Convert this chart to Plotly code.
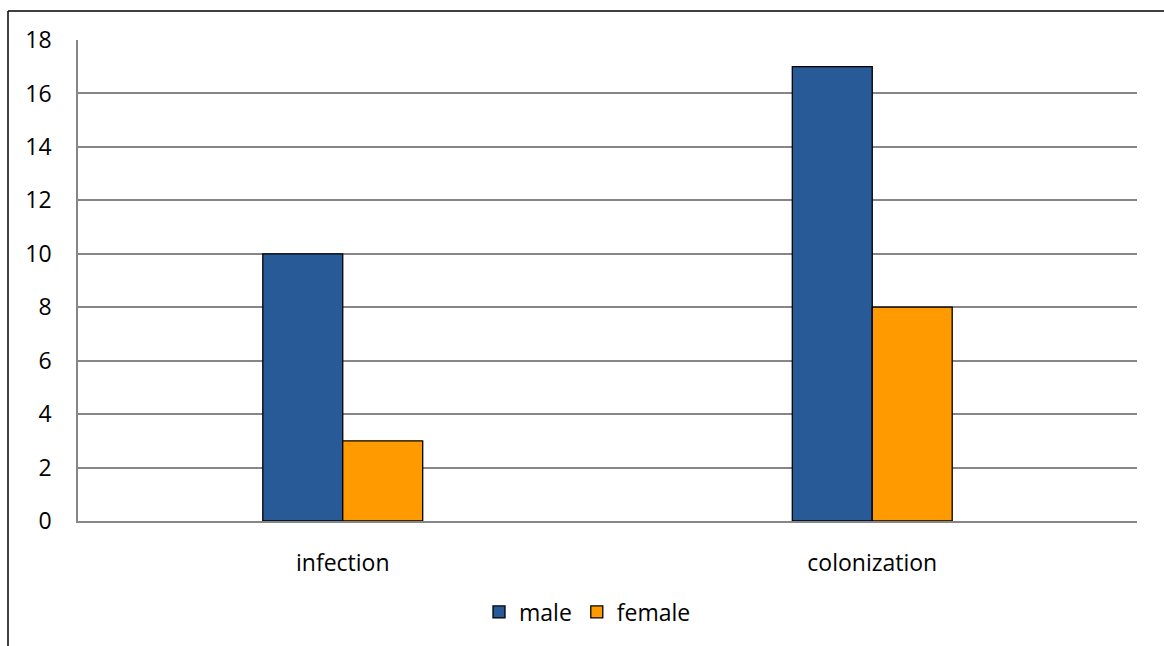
import plotly.graph_objects as go

categories = ["infection", "colonization"]
male = [10, 17]
female = [3, 8]
y_ticks = [0, 2, 4, 6, 8, 10, 12, 14, 16, 18]

BLUE = "#285A98"
ORANGE = "#FF9A00"
GRID = "#868686"
FONT = "Open Sans"

fig = go.Figure()
fig.add_trace(go.Bar(name="male", x=categories, y=male,
                     marker=dict(color=BLUE, line=dict(color="black", width=1.3))))
fig.add_trace(go.Bar(name="female", x=categories, y=female,
                     marker=dict(color=ORANGE, line=dict(color="black", width=1.3))))

L, R, T, B = 78, 27, 40, 125
W, H = 1164, 646
pw, ph = W - L - R, H - T - B

def px_x(px):
    return (px - L) / pw

def px_y(py):
    return (H - B - py) / ph

fig.update_layout(
    width=W, height=H,
    margin=dict(l=L, r=R, t=T, b=B),
    paper_bgcolor="white", plot_bgcolor="white",
    barmode="group", bargap=0.698, bargroupgap=0,
    font=dict(family=FONT, size=23, color="black"),
    showlegend=True,
    legend=dict(orientation="h", x=px_x(479), xanchor="left", y=px_y(612), yanchor="middle",
                font=dict(family=FONT, size=23), itemwidth=30, traceorder="normal",
                bgcolor="rgba(0,0,0,0)"),
    xaxis=dict(showgrid=False, showline=True, linecolor=GRID, linewidth=1.6,
               ticks="outside", ticklen=0, ticklabelstandoff=21, fixedrange=True),
    yaxis=dict(range=[0, 18], tickvals=y_ticks, showgrid=True, gridcolor=GRID, gridwidth=1.6,
               showline=True, linecolor=GRID, linewidth=1.6, zeroline=False,
               ticks="outside", ticklen=0, ticklabelstandoff=20, fixedrange=True),
    shapes=[
        dict(type="line", xref="paper", yref="paper", x0=px_x(8), x1=px_x(1170),
             y0=px_y(11), y1=px_y(11), line=dict(color="black", width=1.5)),
        dict(type="line", xref="paper", yref="paper", x0=px_x(8), x1=px_x(8),
             y0=px_y(11), y1=px_y(650), line=dict(color="black", width=1.5)),
    ],
)

fig.write_html("out.html")
